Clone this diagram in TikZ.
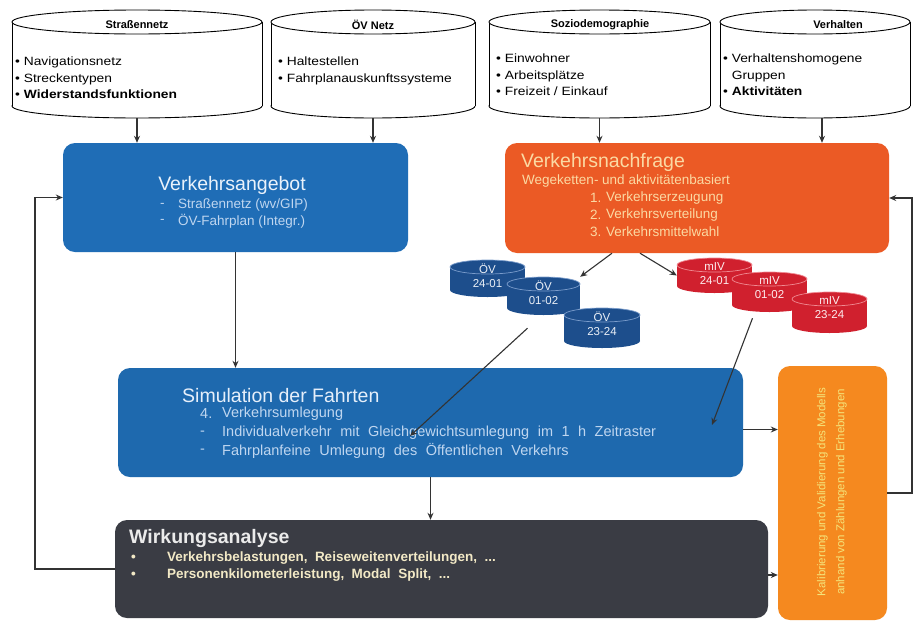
\documentclass[tikz,border=0pt]{standalone}
\usepackage{fontspec}
\setmainfont{Liberation Sans}
\newfontfamily\widefont{Liberation Sans}[FakeStretch=1.15]
\usetikzlibrary{arrows.meta,calc}
\definecolor{blueBox}{HTML}{1F6DB6}
\definecolor{simBox}{HTML}{1E69AE}
\definecolor{nachBox}{HTML}{EB5A25}
\definecolor{orgBox}{HTML}{F5891F}
\definecolor{grayBox}{HTML}{3A3C44}
\definecolor{oevFill}{HTML}{1D4E8C}
\definecolor{oevLine}{HTML}{7A9CCB}
\definecolor{mivFill}{HTML}{D0202E}
\definecolor{mivLine}{HTML}{F08A92}
\definecolor{lightTxt}{HTML}{EAF2FB}
\definecolor{blueTxt}{HTML}{BFD6F0}
\definecolor{nachTxt}{HTML}{FBD9A3}
\definecolor{wirkTxt}{HTML}{F2E9C6}
\definecolor{orgTxt}{HTML}{F4E47A}
\newcommand\widesp[2]{{\spaceskip=#1pt plus 1pt\relax #2}}
\newcommand\bigcyl[3]{%
  \filldraw[fill=white,draw=black,line width=0.9pt] ({(#2+#3)/2},106) ellipse[x radius={(#3-#2)/2}, y radius=12];
  \fill[white] (#2,22) rectangle (#3,106);
  \draw[line width=0.9pt] (#2,22) -- (#2,106) (#3,22) -- (#3,106);
  \filldraw[fill=white,draw=black,line width=0.9pt] ({(#2+#3)/2},22) ellipse[x radius={(#3-#2)/2}, y radius=12];
  \node[minimum width={#3-#2}, minimum height=108, inner sep=0] (#1) at ({(#2+#3)/2},64) {};
}
\newcommand\smcyl[8]{%
  \fill[#6] (#2,#4+7) rectangle (#3,#5-7);
  \fill[#6] ({(#2+#3)/2},{#5-7}) ellipse[x radius={(#3-#2)/2}, y radius=7];
  \filldraw[fill=#6,draw=#7,line width=0.7pt] ({(#2+#3)/2},{#4+7}) ellipse[x radius={(#3-#2)/2}, y radius=7];
  \node[minimum width={#3-#2}, minimum height={#5-#4}, inner sep=0] (#1) at ({(#2+#3)/2},{(#4+#5)/2}) {};
  \node[align=center, text=white!85!#7, font=\fontsize{11.5}{14.5}\selectfont, inner sep=0] at ({(#2+#3)/2},{#4+15.5}) {#8};
}
\begin{document}
\begin{tikzpicture}[x=1pt,y=-1pt,
  arr/.style={-{Stealth[length=7pt,width=6pt]}, line width=1.1pt, draw=black!80},
  box/.style={rounded corners=12pt, inner sep=0, draw=none},
  ctitle/.style={font=\bfseries\fontsize{11}{13}\selectfont, inner sep=0},
  clist/.style={font=\widefont\fontsize{12}{16.5}\selectfont, align=left, anchor=north west, inner sep=0},
  btitle/.style={font=\fontsize{19.5}{22}\selectfont, inner sep=0},
  bitem/.style={font=\fontsize{13.5}{17}\selectfont, inner sep=0, anchor=west},
  witem/.style={font=\bfseries\fontsize{13.5}{16}\selectfont, text=wirkTxt, inner sep=0, anchor=west},
  sitem/.style={font=\fontsize{14.5}{17}\selectfont, text=blueTxt, inner sep=0, anchor=west}]
\useasboundingbox (0,0) rectangle (917,624);
\fill[white] (0,0) rectangle (917,624);

% data cylinders
\bigcyl{sn}{12}{262}
\bigcyl{oevn}{271}{475}
\bigcyl{sozio}{489}{710}
\bigcyl{verh}{720}{910}
\node[ctitle] at (137,25) {Straßennetz};
\node[ctitle] at (373,25) {ÖV Netz};
\node[ctitle] at (600,25) {Soziodemographie};
\node[ctitle] at (838,25) {Verhalten};
\node[clist] at (15,57) {• Navigationsnetz\\• Streckentypen\\• \textbf{Widerstandsfunktionen}};
\node[clist] at (278,57) {• Haltestellen\\• Fahrplanauskunftssysteme};
\node[clist] at (496,54) {• Einwohner\\• Arbeitsplätze\\• Freizeit / Einkauf};
\node[clist] at (723,54) {• Verhaltenshomogene\\\phantom{• }Gruppen\\• \textbf{Aktivitäten}};

% main boxes
\node[box, fill=blueBox, minimum width=345, minimum height=109] (ang) at (235.5,197.5) {};
\node[box, fill=nachBox, minimum width=384, minimum height=110] (nach) at (697,198) {};
\node[box, fill=simBox, minimum width=625, minimum height=109] (sim) at (430.5,422.5) {};
\node[box, fill=grayBox, minimum width=653, minimum height=98] (wirk) at (441.5,569) {};
\node[box, fill=orgBox, minimum width=109, minimum height=254] (orng) at (832.5,493) {};

% Verkehrsangebot text
\node[btitle, text=lightTxt] at (232,185) {Verkehrsangebot};
\node[bitem, text=blueTxt] at (160,205) {-};
\node[bitem, text=blueTxt] at (178,205) {Straßennetz (wv/GIP)};
\node[bitem, text=blueTxt] at (160,221) {-};
\node[bitem, text=blueTxt] at (178,221) {ÖV-Fahrplan (Integr.)};

% Verkehrsnachfrage text
\node[btitle, text=nachTxt, anchor=west] at (521,162) {Verkehrsnachfrage};
\node[bitem, text=nachTxt] at (522,181) {Wegeketten- und aktivitätenbasiert};
\node[bitem, text=nachTxt] at (590,198) {1.};
\node[bitem, text=nachTxt] at (606,198) {Verkehrserzeugung};
\node[bitem, text=nachTxt] at (590,215) {2.};
\node[bitem, text=nachTxt] at (606,215) {Verkehrsverteilung};
\node[bitem, text=nachTxt] at (590,232) {3.};
\node[bitem, text=nachTxt] at (606,232) {Verkehrsmittelwahl};

% Simulation text
\node[btitle, text=lightTxt!90!blueTxt, anchor=west] at (182,396) {Simulation der Fahrten};
\node[sitem] at (200,414) {4.};
\node[sitem] at (222,414) {Verkehrsumlegung};
\node[sitem] at (200,433) {-};
\node[sitem] at (222,433) {\widesp{8.5}{Individualverkehr mit Gleichgewichtsumlegung im 1 h Zeitraster}};
\node[sitem] at (200,451) {-};
\node[sitem] at (222,451) {\widesp{8.5}{Fahrplanfeine Umlegung des Öffentlichen Verkehrs}};

% Wirkungsanalyse text
\node[btitle, font=\bfseries\fontsize{19.5}{22}\selectfont, text=white!92!black, anchor=west] at (129,538) {Wirkungsanalyse};
\node[witem] at (131,558) {•};
\node[witem] at (167,558) {\widesp{7.5}{Verkehrsbelastungen, Reiseweitenverteilungen, ...}};
\node[witem] at (131,575) {•};
\node[witem] at (167,575) {\widesp{7.5}{Personenkilometerleistung, Modal Split, ...}};

% orange vertical box text
\node[rotate=90, align=center, text=orgTxt, font=\fontsize{11.5}{19}\selectfont, inner sep=0] at (832,492) {Kalibrierung und Validierung des Modells\\anhand von Zählungen und Erhebungen};

% small cylinders
\smcyl{oev1}{450}{525}{260}{297}{oevFill}{oevLine}{ÖV\\24-01}
\smcyl{oev2}{507}{580}{277}{315}{oevFill}{oevLine}{ÖV\\01-02}
\smcyl{oev3}{564}{640}{308}{348}{oevFill}{oevLine}{ÖV\\23-24}
\smcyl{miv1}{677}{752}{258}{293}{mivFill}{mivLine}{mIV\\24-01}
\smcyl{miv2}{732}{807}{272}{312}{mivFill}{mivLine}{mIV\\01-02}
\smcyl{miv3}{792}{867}{292}{333}{mivFill}{mivLine}{mIV\\23-24}

% connectors
\draw[arr] (sn.south) -- (sn.south |- ang.north);
\draw[arr] (oevn.south) -- (oevn.south |- ang.north);
\draw[arr] (sozio.south) -- (sozio.south |- nach.north);
\draw[arr] ([xshift=7pt]verh.south) -- ([xshift=7pt]verh.south |- nach.north);
\draw[arr] (ang.south) -- (ang.south |- sim.north);
\draw[arr] (sim.south) -- (sim.south |- wirk.north);
\draw[arr] ([xshift=-85pt]nach.south) -- (oev2.north east);
\draw[arr] ([xshift=-57pt]nach.south) -- (miv1.west);
\coordinate (tS1) at (410,436);
\coordinate (tS2) at (712,425);
\draw[arr] ($(oev2.south)+(-16,13)$) -- (tS1);
\draw[arr] ($(miv2.south)+(-17,6)$) -- (tS2);
\draw[arr] ([yshift=-7pt]sim.east) -- ([yshift=-7pt]sim.east -| orng.west);
\draw[arr] ([yshift=-6pt]wirk.east) -- ([yshift=-6pt]wirk.east -| orng.west);
\coordinate (fbL) at (35,0);
\coordinate (fbR) at (912,0);
\draw[arr] (wirk.west) -- (wirk.west -| fbL) |- (ang.west);
\draw[arr] (orng.east) -- (orng.east -| fbR) |- (nach.east);
\end{tikzpicture}
\end{document}
